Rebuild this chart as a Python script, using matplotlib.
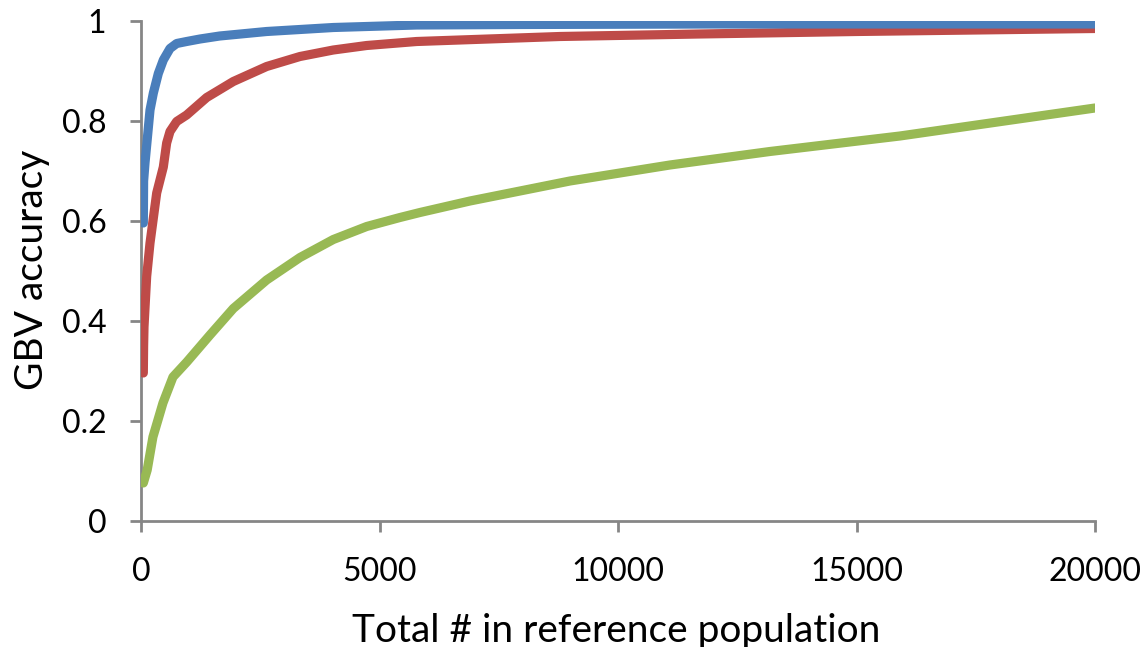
import matplotlib
matplotlib.use("Agg")
import matplotlib.pyplot as plt

# Data
blue_x = [49, 55, 84, 189, 259, 363, 468, 608, 748, 957, 1237, 1650, 2634, 4031, 5778, 8000, 12000, 20000]
blue_y = [0.596, 0.68, 0.716, 0.822, 0.856, 0.895, 0.922, 0.945, 0.955, 0.959, 0.964, 0.970, 0.979, 0.987, 0.992, 0.993, 0.994, 0.994]

red_x = [49, 55, 63, 119, 189, 329, 468, 538, 608, 748, 957, 1377, 1935, 2634, 3333, 4031, 4731, 5778, 8780, 11700, 15000, 20000]
red_y = [0.296, 0.35, 0.388, 0.489, 0.556, 0.656, 0.708, 0.756, 0.779, 0.799, 0.812, 0.847, 0.879, 0.909, 0.929, 0.942, 0.951, 0.959, 0.969, 0.974, 0.979, 0.985]

green_x = [49, 130, 250, 460, 670, 960, 1446, 1935, 2634, 3333, 4031, 4731, 5429, 5848, 6896, 8992, 11088, 13184, 15910, 20000]
green_y = [0.076, 0.102, 0.168, 0.236, 0.288, 0.318, 0.372, 0.425, 0.482, 0.527, 0.563, 0.589, 0.607, 0.617, 0.640, 0.680, 0.712, 0.739, 0.770, 0.826]

xticks = [0, 5000, 10000, 15000, 20000]
yticks = [0, 0.2, 0.4, 0.6, 0.8, 1.0]
ytick_labels = ["0", "0.2", "0.4", "0.6", "0.8", "1"]

plt.rcParams['font.family'] = ['Lato', 'DejaVu Sans']

fig = plt.figure(figsize=(11.45, 6.47), dpi=100)
ax = fig.add_axes([141/1145, 1 - 521/647, (1095-141)/1145, (521-21)/647])

lw = 6.6
ax.plot(green_x, green_y, color='#98B954', lw=lw, solid_capstyle='round', solid_joinstyle='round')
ax.plot(red_x, red_y, color='#BE4B48', lw=lw, solid_capstyle='round', solid_joinstyle='round')
ax.plot(blue_x, blue_y, color='#4A7EBB', lw=lw, solid_capstyle='round', solid_joinstyle='round')

ax.set_xlim(0, 20000)
ax.set_ylim(0, 1)
ax.set_xticks(xticks)
ax.set_xticklabels([str(v) for v in xticks])
ax.set_yticks(yticks)
ax.set_yticklabels(ytick_labels)

gray = '#868686'
for s in ['top', 'right']:
    ax.spines[s].set_visible(False)
for s in ['left', 'bottom']:
    ax.spines[s].set_color(gray)
    ax.spines[s].set_linewidth(2)
    ax.spines[s].set_zorder(0)
ax.tick_params(axis='both', direction='out', length=8, width=2, color=gray,
               labelsize=23, labelcolor='black')
ax.tick_params(axis='x', pad=18)
ax.tick_params(axis='y', pad=17)

fig.text(616/1145, 1 - 642/647, "Total # in reference population", fontsize=28,
         ha='center', va='baseline')
fig.text(32/1145, 1 - 270/647, "GBV accuracy", fontsize=28, rotation=90,
         ha='center', va='center')

fig.savefig("out.png", dpi=100)
